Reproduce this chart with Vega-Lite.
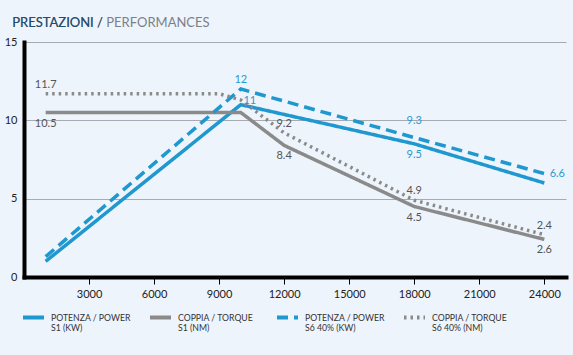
{
  "$schema": "https://vega.github.io/schema/vega-lite/v6.json",
  "width": 542,
  "height": 235,
  "autosize": {"type": "none"},
  "padding": {"left": 24, "top": 42, "right": 7, "bottom": 78},
  "background": "#eef4fb",
  "title": {
    "text": "PRESTAZIONI / PERFORMANCES",
    "subtitle": "PRESTAZIONI /",
    "anchor": "start",
    "dx": 8,
    "offset": 6,
    "font": "Lato",
    "fontSize": 13,
    "fontWeight": "normal",
    "color": "#7b8088",
    "subtitleFont": "Lato",
    "subtitleFontSize": 13,
    "subtitleFontWeight": "normal",
    "subtitleColor": "#1f4e72",
    "subtitlePadding": -13
  },
  "config": {
    "view": {"stroke": null},
    "font": "Lato"
  },
  "datasets": {
    "series": [
      {"series": "POTENZA / POWER|S1 (KW)", "rpm": 1000, "value": 1.0},
      {"series": "POTENZA / POWER|S1 (KW)", "rpm": 10000, "value": 11.0},
      {"series": "POTENZA / POWER|S1 (KW)", "rpm": 18000, "value": 8.5},
      {"series": "POTENZA / POWER|S1 (KW)", "rpm": 24000, "value": 6.0},
      {"series": "COPPIA / TORQUE|S1 (NM)", "rpm": 1000, "value": 10.5},
      {"series": "COPPIA / TORQUE|S1 (NM)", "rpm": 10000, "value": 10.5},
      {"series": "COPPIA / TORQUE|S1 (NM)", "rpm": 12000, "value": 8.4},
      {"series": "COPPIA / TORQUE|S1 (NM)", "rpm": 18000, "value": 4.5},
      {"series": "COPPIA / TORQUE|S1 (NM)", "rpm": 24000, "value": 2.4},
      {"series": "POTENZA / POWER|S6 40% (KW)", "rpm": 1000, "value": 1.3},
      {"series": "POTENZA / POWER|S6 40% (KW)", "rpm": 10000, "value": 12.0},
      {"series": "POTENZA / POWER|S6 40% (KW)", "rpm": 18000, "value": 8.9},
      {"series": "POTENZA / POWER|S6 40% (KW)", "rpm": 24000, "value": 6.6},
      {"series": "COPPIA / TORQUE|S6 40% (NM)", "rpm": 1000, "value": 11.7},
      {"series": "COPPIA / TORQUE|S6 40% (NM)", "rpm": 9000, "value": 11.7},
      {"series": "COPPIA / TORQUE|S6 40% (NM)", "rpm": 10000, "value": 11.3},
      {"series": "COPPIA / TORQUE|S6 40% (NM)", "rpm": 12000, "value": 9.2},
      {"series": "COPPIA / TORQUE|S6 40% (NM)", "rpm": 18000, "value": 4.9},
      {"series": "COPPIA / TORQUE|S6 40% (NM)", "rpm": 24000, "value": 2.7}
    ],
    "labels": [
      {"series": "COPPIA / TORQUE|S6 40% (NM)", "rpm": 1000, "value": 11.7, "label": "11.7", "pos": "above"},
      {"series": "POTENZA / POWER|S6 40% (KW)", "rpm": 10000, "value": 12.0, "label": "12", "pos": "above"},
      {"series": "COPPIA / TORQUE|S6 40% (NM)", "rpm": 12000, "value": 9.2, "label": "9.2", "pos": "above"},
      {"series": "COPPIA / TORQUE|S6 40% (NM)", "rpm": 18000, "value": 4.9, "label": "4.9", "pos": "above"},
      {"series": "COPPIA / TORQUE|S6 40% (NM)", "rpm": 24000, "value": 2.7, "label": "2.4", "pos": "above"},
      {"series": "COPPIA / TORQUE|S1 (NM)", "rpm": 1000, "value": 10.5, "label": "10.5", "pos": "below"},
      {"series": "COPPIA / TORQUE|S1 (NM)", "rpm": 12000, "value": 8.4, "label": "8.4", "pos": "below"},
      {"series": "POTENZA / POWER|S1 (KW)", "rpm": 18000, "value": 8.5, "label": "9.5", "pos": "below"},
      {"series": "COPPIA / TORQUE|S1 (NM)", "rpm": 18000, "value": 4.5, "label": "4.5", "pos": "below"},
      {"series": "COPPIA / TORQUE|S1 (NM)", "rpm": 24000, "value": 2.4, "label": "2.6", "pos": "below"},
      {"series": "POTENZA / POWER|S6 40% (KW)", "rpm": 18000, "value": 8.9, "label": "9.3", "pos": "far"},
      {"series": "POTENZA / POWER|S1 (KW)", "rpm": 10000, "value": 11.0, "label": "11", "pos": "upright"},
      {"series": "POTENZA / POWER|S6 40% (KW)", "rpm": 24000, "value": 6.6, "label": "6.6", "pos": "right"}
    ]
  },
  "encoding": {
    "x": {
      "field": "rpm",
      "type": "quantitative",
      "scale": {"domain": [0, 25000], "nice": false},
      "axis": {
        "title": null,
        "values": [3000, 6000, 9000, 12000, 15000, 18000, 21000, 24000],
        "format": "d",
        "grid": false,
        "domainColor": "#000000",
        "domainWidth": 4,
        "domainCap": "square",
        "tickColor": "#000000",
        "tickWidth": 1,
        "tickSize": 7,
        "labelFontSize": 11,
        "labelColor": "#222222",
        "labelPadding": 4,
        "labelFont": "Lato"
      }
    },
    "y": {
      "field": "value",
      "type": "quantitative",
      "scale": {"domain": [0, 15], "nice": false},
      "axis": {
        "title": null,
        "values": [0, 5, 10, 15],
        "grid": true,
        "gridColor": "#a7abb0",
        "gridWidth": 1,
        "domainColor": "#000000",
        "domainWidth": 4,
        "domainCap": "square",
        "ticks": false,
        "labelPadding": 7,
        "labelFontSize": 11,
        "labelColor": "#222222",
        "labelFont": "Lato"
      }
    }
  },
  "layer": [
    {
      "data": {"name": "series"},
      "mark": {"type": "line", "strokeWidth": 3.5, "strokeCap": "butt", "strokeJoin": "miter"},
      "encoding": {
        "color": {
          "field": "series",
          "type": "nominal",
          "scale": {
            "domain": ["POTENZA / POWER|S1 (KW)", "COPPIA / TORQUE|S1 (NM)", "POTENZA / POWER|S6 40% (KW)", "COPPIA / TORQUE|S6 40% (NM)"],
            "range": ["#1f97cf", "#8a8a8a", "#1f97cf", "#8a8a8a"]
          },
          "legend": {
            "title": null,
            "orient": "none",
            "legendX": -3,
            "legendY": 263,
            "direction": "horizontal",
            "columns": 4,
            "columnPadding": 11,
            "gridAlign": "all",
            "symbolType": "stroke",
            "symbolSize": 441,
            "symbolStrokeWidth": 4,
            "labelOffset": 5,
            "labelExpr": "split(datum.label, '|')",
            "labelFont": "Lato",
            "labelFontSize": 8.7,
            "labelColor": "#333333",
            "labelLimit": 200
          }
        },
        "strokeDash": {
          "field": "series",
          "type": "nominal",
          "scale": {
            "domain": ["POTENZA / POWER|S1 (KW)", "COPPIA / TORQUE|S1 (NM)", "POTENZA / POWER|S6 40% (KW)", "COPPIA / TORQUE|S6 40% (NM)"],
            "range": [[1, 0], [1, 0], [11, 6], [2.5, 4]]
          },
          "legend": {
            "title": null,
            "orient": "none",
            "legendX": -3,
            "legendY": 263,
            "direction": "horizontal",
            "columns": 4,
            "columnPadding": 11,
            "gridAlign": "all",
            "symbolType": "stroke",
            "symbolSize": 441,
            "symbolStrokeWidth": 4,
            "labelOffset": 5,
            "labelExpr": "split(datum.label, '|')",
            "labelFont": "Lato",
            "labelFontSize": 8.7,
            "labelColor": "#333333",
            "labelLimit": 200
          }
        }
      }
    },
    {
      "data": {"name": "labels"},
      "transform": [{"filter": "datum.pos === 'above'"}],
      "mark": {"type": "text", "dy": -9, "fontSize": 11, "font": "Lato"},
      "encoding": {
        "text": {"field": "label"},
        "color": {"condition": {"test": {"field": "series", "oneOf": ["POTENZA / POWER|S1 (KW)", "POTENZA / POWER|S6 40% (KW)"]}, "value": "#2a9ad0"}, "value": "#555555"}
      }
    },
    {
      "data": {"name": "labels"},
      "transform": [{"filter": "datum.pos === 'below'"}],
      "mark": {"type": "text", "dy": 11, "fontSize": 11, "font": "Lato"},
      "encoding": {
        "text": {"field": "label"},
        "color": {"condition": {"test": {"field": "series", "oneOf": ["POTENZA / POWER|S1 (KW)", "POTENZA / POWER|S6 40% (KW)"]}, "value": "#2a9ad0"}, "value": "#555555"}
      }
    },
    {
      "data": {"name": "labels"},
      "transform": [{"filter": "datum.pos === 'far'"}],
      "mark": {"type": "text", "dy": -17, "fontSize": 11, "font": "Lato"},
      "encoding": {
        "text": {"field": "label"},
        "color": {"condition": {"test": {"field": "series", "oneOf": ["POTENZA / POWER|S1 (KW)", "POTENZA / POWER|S6 40% (KW)"]}, "value": "#2a9ad0"}, "value": "#555555"}
      }
    },
    {
      "data": {"name": "labels"},
      "transform": [{"filter": "datum.pos === 'upright'"}],
      "mark": {"type": "text", "dx": 9, "dy": -4, "fontSize": 11, "font": "Lato"},
      "encoding": {
        "text": {"field": "label"},
        "color": {"condition": {"test": {"field": "series", "oneOf": ["POTENZA / POWER|S1 (KW)", "POTENZA / POWER|S6 40% (KW)"]}, "value": "#2a9ad0"}, "value": "#555555"}
      }
    },
    {
      "data": {"name": "labels"},
      "transform": [{"filter": "datum.pos === 'right'"}],
      "mark": {"type": "text", "dx": 13, "dy": 0, "fontSize": 11, "font": "Lato"},
      "encoding": {
        "text": {"field": "label"},
        "color": {"condition": {"test": {"field": "series", "oneOf": ["POTENZA / POWER|S1 (KW)", "POTENZA / POWER|S6 40% (KW)"]}, "value": "#2a9ad0"}, "value": "#555555"}
      }
    }
  ]
}
